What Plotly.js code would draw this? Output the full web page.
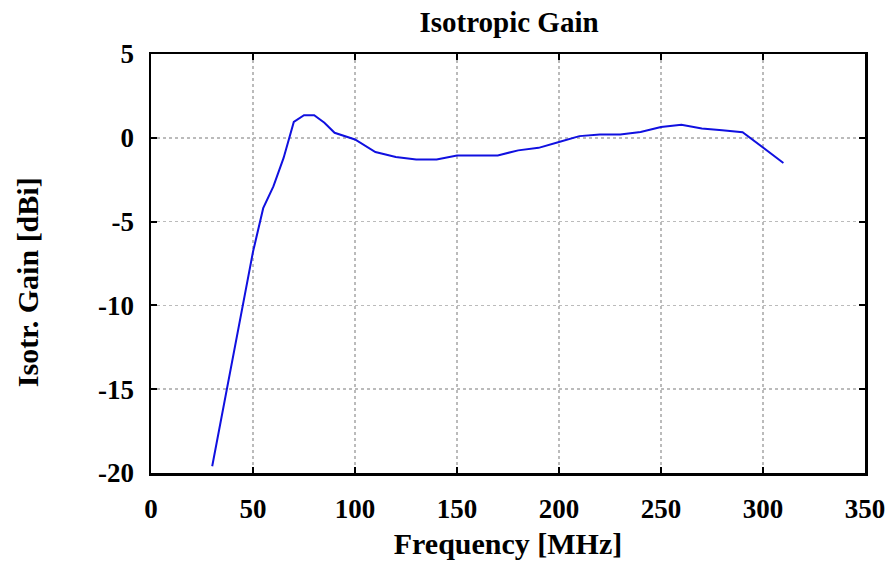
<!DOCTYPE html>
<html>
<head>
<meta charset="utf-8">
<script src="https://cdn.plot.ly/plotly-3.0.1.min.js"></script>
<style>html,body{margin:0;padding:0;background:#fff;}#chart{width:893px;height:568px;}</style>
</head>
<body>
<div id="chart"></div>
<script>
const freq = [30, 40, 50, 55, 60, 65, 70, 75, 80, 85, 90, 100, 110, 120, 130, 140, 150, 160, 170, 180, 190, 200, 210, 220, 230, 240, 250, 260, 270, 280, 290, 310];
const gain = [-19.6, -13.2, -6.8, -4.2, -2.9, -1.2, 0.95, 1.35, 1.35, 0.9, 0.3, -0.1, -0.85, -1.15, -1.3, -1.3, -1.05, -1.05, -1.05, -0.75, -0.6, -0.25, 0.1, 0.2, 0.2, 0.35, 0.65, 0.78, 0.55, 0.45, 0.33, -1.5];
const xTicks = [0, 50, 100, 150, 200, 250, 300, 350];
const yTicks = [5, 0, -5, -10, -15, -20];

const fontFam = '"Liberation Serif", "Times New Roman", serif';
const axisCommon = {
  showline: true, linecolor: '#000', linewidth: 2.5, mirror: 'ticks',
  ticks: 'inside', ticklen: 6, tickwidth: 2, tickcolor: '#000',
  showgrid: true, gridcolor: '#bbbbbb', griddash: 'dot', gridwidth: 1.5,
  zeroline: false,
  tickfont: {family: fontFam, size: 27, color: '#000', weight: 'bold'}
};
const layout = {
  width: 893, height: 568,
  margin: {l: 151, r: 28, t: 54, b: 95},
  paper_bgcolor: '#fff', plot_bgcolor: '#fff',
  showlegend: false,
  title: {text: 'Isotropic Gain', x: 0.57, xanchor: 'center', y: 0.962, yanchor: 'middle',
          font: {family: fontFam, size: 29, color: '#000', weight: 'bold'}},
  xaxis: Object.assign({}, axisCommon, {
    range: [0, 350], tickvals: xTicks, ticktext: xTicks.map(String),
    ticklabelstandoff: 10,
    title: {text: 'Frequency [MHz]', standoff: 10, font: {family: fontFam, size: 30, color: '#000', weight: 'bold'}}
  }),
  yaxis: Object.assign({}, axisCommon, {
    range: [-20, 5], tickvals: yTicks, ticktext: yTicks.map(String),
    ticklabelstandoff: 9
  }),
  annotations: [{
    text: 'Isotr. Gain [dBi]', textangle: -90, showarrow: false,
    xref: 'paper', yref: 'paper', x: -0.172, y: 0.456, xanchor: 'center', yanchor: 'middle',
    font: {family: fontFam, size: 30, color: '#000', weight: 'bold'}
  }]
};
const data = [{
  x: freq, y: gain, type: 'scatter', mode: 'lines',
  line: {color: '#1010e0', width: 2}
}];
Plotly.newPlot('chart', data, layout, {displayModeBar: false, staticPlot: true});
</script>
</body>
</html>
